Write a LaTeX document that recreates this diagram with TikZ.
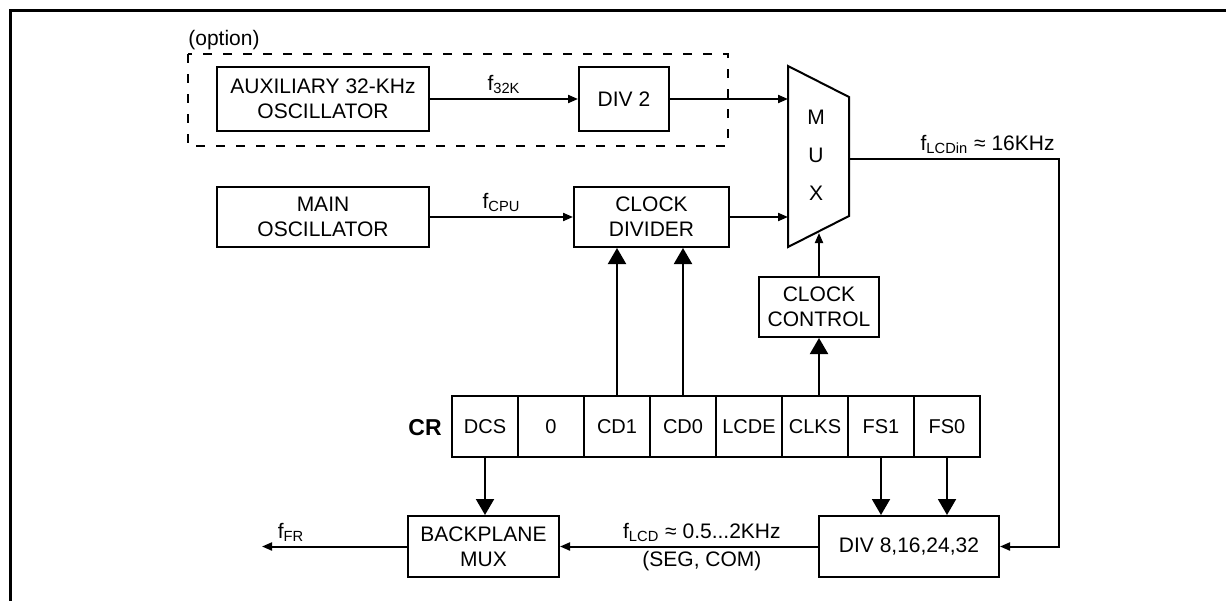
\documentclass[tikz,border=0pt]{standalone}
\usepackage{fontspec}
\setmainfont{Liberation Sans}
\usetikzlibrary{arrows.meta,positioning,calc}
\tikzset{
  box/.style={draw,line width=1pt,align=center,font=\fontsize{10.5}{12.5}\selectfont,inner sep=0pt},
  lbl/.style={font=\fontsize{10.5}{12.5}\selectfont,inner sep=2pt},
  cell/.style={draw,line width=1pt,minimum width=33pt,minimum height=30.5pt,font=\fontsize{10}{12}\selectfont,inner sep=0pt},
  optbox/.style={draw,line width=1pt,dash pattern=on 4.5pt off 5.5pt},
  arr/.style={-{Triangle[length=5pt,width=4pt]},line width=1pt},
  barr/.style={-{Triangle[length=8pt,width=9pt]},line width=1pt},
}
\begin{document}
\begin{tikzpicture}[x=0.5pt,y=-0.5pt]
\useasboundingbox (0,0) rectangle (1226,600);
\draw[line width=1.5pt] (10,610) -- (10,10) -- (1236,10);
% optional 32k source
\node[lbl,anchor=west] (opt) at (184,40) {(option)};
\draw[optbox] (188,54) rectangle (728,146);
\node[box,minimum width=106pt,minimum height=32pt] (aux) at (323,99) {AUXILIARY 32-KHz\\OSCILLATOR};
\node[box,minimum width=45pt,minimum height=32pt] (div2) at (624,99) {DIV 2};
\node[box,minimum width=106pt,minimum height=30pt] (mainosc) at (323,217) {MAIN\\OSCILLATOR};
\node[box,minimum width=77.5pt,minimum height=30pt] (clkdiv) at (651.5,217) {CLOCK\\DIVIDER};
\node[box,minimum width=60pt,minimum height=30pt] (clkctrl) at (819,307) {CLOCK\\CONTROL};
% mux
\draw[line width=1pt] (788,66) -- (849,97) -- (849,216) -- (788,247) -- cycle;
\node[font=\fontsize{10.5}{19}\selectfont,align=center] (mux) at (816,155) {M\\U\\X};
\coordinate (muxa) at (788,99);
\coordinate (muxb) at (788,217);
\coordinate (muxc) at (819,233);
\coordinate (muxo) at (849,159);
\coordinate (turn) at (1059,159);
% register
\node[font=\bfseries\fontsize{11.5}{14}\selectfont] (cr) at (425,428) {CR};
\foreach \t [count=\i] in {DCS,0,CD1,CD0,LCDE,CLKS,FS1,FS0}
  \node[cell] (r\i) at (419+66*\i,426.5) {\t};
\node[box,minimum width=75.5pt,minimum height=30.5pt] (bpmux) at (483.5,546.5) {BACKPLANE\\MUX};
\node[box,minimum width=90pt,minimum height=30.5pt] (div8) at (909,546.5) {DIV 8,16,24,32};
\coordinate (ffr) at (262,546.5);
% connectors
\draw[arr] (aux) -- node[lbl,above]{f\textsubscript{32K}} (div2);
\draw[arr] (div2) -- (muxa);
\draw[arr] (mainosc) -- node[lbl,above]{f\textsubscript{CPU}} (clkdiv);
\draw[arr] (clkdiv) -- (muxb);
\draw[arr] (clkctrl) -- (muxc);
\draw[arr] (muxo) -- node[lbl,above,pos=.66]{f\textsubscript{LCDin} ≈ 16KHz} (turn) |- (div8.east);
\draw[barr] (r3.north) -- (r3.north |- clkdiv.south);
\draw[barr] (r4.north) -- (r4.north |- clkdiv.south);
\draw[barr] (r6.north -| clkctrl.south) -- (clkctrl.south);
\draw[barr] (r1.south) -- (r1.south |- bpmux.north);
\draw[barr] (r7.south) -- (r7.south |- div8.north);
\draw[barr] (r8.south) -- (r8.south |- div8.north);
\draw[arr] (div8) -- node[lbl,above,pos=.45]{f\textsubscript{LCD} ≈ 0.5...2KHz} node[lbl,below,pos=.45]{(SEG, COM)} (bpmux);
\draw[arr] (bpmux) -- node[lbl,above,pos=.8]{f\textsubscript{FR}} (ffr);
\end{tikzpicture}
\end{document}
